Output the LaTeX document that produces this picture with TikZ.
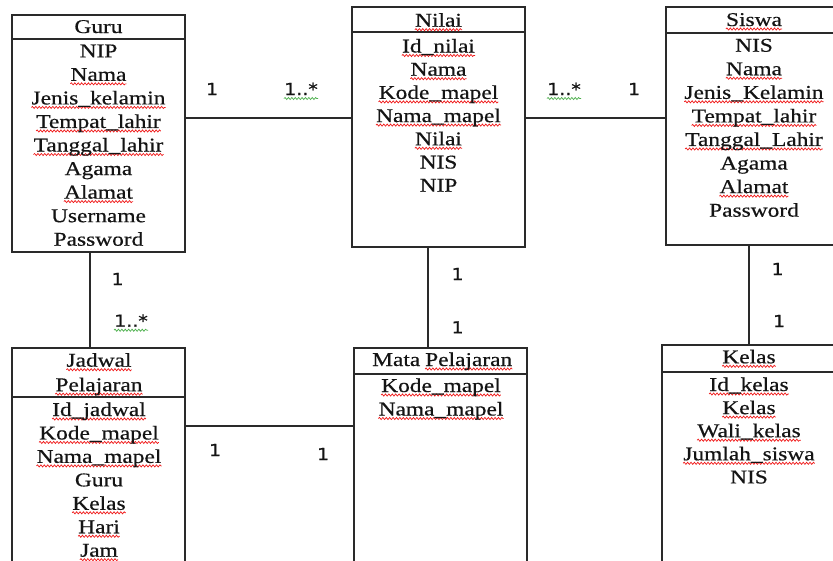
\documentclass[tikz,border=0pt]{standalone}
\usepackage{fontspec}
\usetikzlibrary{decorations.pathmorphing}
\setmainfont{Liberation Serif}[FakeStretch=1.2, FakeBold=0.5]
\newfontfamily\cardfont{DejaVu Sans}[FakeStretch=1.15, FakeBold=0.6]
\definecolor{ink}{HTML}{141414}
\definecolor{linec}{HTML}{2A2A2A}
\definecolor{spellred}{HTML}{F01818}
\definecolor{gramgreen}{HTML}{4CB04C}
\tikzset{
  entity/.style={draw=linec, line width=1.6pt, rectangle, anchor=north west,
                 inner sep=0pt, outer sep=0pt},
  divider/.style={draw=linec, line width=1.6pt},
  attr/.style={font=\fontsize{19.5}{23}\selectfont, anchor=base, inner sep=0pt, text=ink},
  card/.style={font=\cardfont\fontsize{16.5}{18}\selectfont, anchor=base, inner sep=0pt, text=ink},
  link/.style={draw=linec, line width=1.3pt},
  wavy/.style={decorate, decoration={snake, amplitude=1.05pt, segment length=3.4pt},
               line width=0.7pt},
  % wavy proofing marks under a whole node
  spell/.style={append after command={\pgfextra{\draw[wavy, spellred]
      ([yshift=-3pt]\tikzlastnode.base west) -- ([yshift=-3pt]\tikzlastnode.base east);}}},
  gram/.style={append after command={\pgfextra{\draw[wavy, gramgreen]
      ([yshift=-3.5pt]\tikzlastnode.base west) -- ([yshift=-3.5pt]\tikzlastnode.base east);}}},
  nomark/.style={},
}
\begin{document}
\begin{tikzpicture}[x=1pt, y=-1pt]
\useasboundingbox (0,0) rectangle (833,560);
\clip (0,0) rectangle (833,560);
\fill[white] (0,0) rectangle (833,560);

% ---- Guru ----
\node[entity, minimum width=173pt, minimum height=237pt] (guru) at (12,15) {};
\draw[divider] (guru.west |- 0,39) -- (guru.east |- 0,39);
\node[attr] (guru-h) at (98.5,33) {Guru};
\foreach \t/\s [count=\i] in {NIP/nomark, Nama/spell, Jenis\_kelamin/spell,
    Tempat\_lahir/spell, Tanggal\_lahir/spell, Agama/nomark,
    Alamat/spell, Username/nomark, Password/nomark}
  \node[attr, \s] (guru-\i) at (98.5, {57.3+23.55*(\i-1)}) {\t};

% ---- Nilai ----
\node[entity, minimum width=173pt, minimum height=240pt] (nilai) at (352,7) {};
\draw[divider] (nilai.west |- 0,32) -- (nilai.east |- 0,32);
\node[attr, spell] (nilai-h) at (438.5,26.7) {Nilai};
\foreach \t/\s [count=\i] in {Id\_nilai/spell, Nama/spell, Kode\_mapel/spell,
    Nama\_mapel/spell, Nilai/spell, NIS/nomark, NIP/nomark}
  \node[attr, \s] (nilai-\i) at (438.5, {52.5+23.2*(\i-1)}) {\t};

% ---- Siswa ----
\node[entity, minimum width=176pt, minimum height=238pt] (siswa) at (666,7) {};
\draw[divider] (siswa.west |- 0,33) -- (siswa.east |- 0,33);
\node[attr, spell] (siswa-h) at (754,26) {Siswa};
\foreach \t/\s [count=\i] in {NIS/nomark, Nama/spell, Jenis\_Kelamin/spell,
    Tempat\_lahir/spell, Tanggal\_Lahir/spell, Agama/nomark,
    Alamat/spell, Password/nomark}
  \node[attr, \s] (siswa-\i) at (754, {51.7+23.57*(\i-1)}) {\t};

% ---- Jadwal Pelajaran ----
\node[entity, minimum width=173pt, minimum height=260pt] (jadwal) at (12,348) {};
\draw[divider] (jadwal.west |- 0,397) -- (jadwal.east |- 0,397);
\node[attr, spell] (jadwal-h1) at (99,366.7) {Jadwal};
\node[attr, spell] (jadwal-h2) at (99,391.2) {Pelajaran};
\foreach \t/\s [count=\i] in {Id\_jadwal/spell, Kode\_mapel/spell,
    Nama\_mapel/spell, Guru/nomark, Kelas/spell, Hari/spell, Jam/spell}
  \node[attr, \s] (jadwal-\i) at (99, {416+23.45*(\i-1)}) {\t};

% ---- Mata Pelajaran ----
\node[entity, minimum width=173pt, minimum height=260pt] (mata) at (354,348) {};
\draw[divider] (mata.west |- 0,374) -- (mata.east |- 0,374);
\node[attr, anchor=base west] (mata-h1) at (372,366) {Mata};
\node[attr, anchor=base west, spell] (mata-h2) at (425,366) {Pelajaran};
\foreach \t/\s [count=\i] in {Kode\_mapel/spell, Nama\_mapel/spell}
  \node[attr, \s] (mata-\i) at (441, {392+23.5*(\i-1)}) {\t};

% ---- Kelas ----
\node[entity, minimum width=174pt, minimum height=260pt] (kelas) at (662,345) {};
\draw[divider] (kelas.west |- 0,372) -- (kelas.east |- 0,372);
\node[attr, spell] (kelas-h) at (749,363.3) {Kelas};
\foreach \t/\s [count=\i] in {Id\_kelas/spell, Kelas/spell, Wali\_kelas/spell,
    Jumlah\_siswa/spell, NIS/nomark}
  \node[attr, \s] (kelas-\i) at (749, {391+23.1*(\i-1)}) {\t};

% ---- relationships ----
\draw[link] (guru.east |- 0,118) -- (nilai.west |- 0,118);
\draw[link] (nilai.east |- 0,118) -- (siswa.west |- 0,118);
\draw[link] (guru.south -| 90,0) -- (jadwal.north -| 90,0);
\draw[link] (nilai.south -| 428,0) -- (mata.north -| 428,0);
\draw[link] (siswa.south -| 749,0) -- (kelas.north -| 749,0);
\draw[link] (jadwal.east |- 0,426) -- (mata.west |- 0,426);

% ---- cardinalities ----
\node[card] (c-gn-1) at (212,95) {1};
\node[card, gram] (c-gn-2) at (301,95) {1..*};
\node[card, gram] (c-ns-1) at (564,95) {1..*};
\node[card] (c-ns-2) at (634,95) {1};
\node[card] (c-gj-1) at (117.5,285) {1};
\node[card, gram] (c-gj-2) at (131,326.7) {1..*};
\node[card] (c-nm-1) at (457.5,280) {1};
\node[card] (c-nm-2) at (457.5,333.3) {1};
\node[card] (c-sk-1) at (777.5,275) {1};
\node[card] (c-sk-2) at (779,327) {1};
\node[card] (c-jm-1) at (215,456) {1};
\node[card] (c-jm-2) at (323,460) {1};
\end{tikzpicture}
\end{document}
